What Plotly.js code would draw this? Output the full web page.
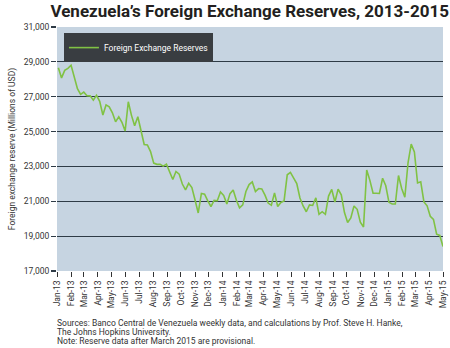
<!DOCTYPE html>
<html><head><meta charset="utf-8">
<script src="https://cdn.plot.ly/plotly-3.0.1.min.js"></script>
<style>html,body{margin:0;padding:0;background:#fff;}#chart{width:450px;height:348px;}</style>
</head><body><div id="chart"></div>
<script>
const dates = [
"2013-01-04","2013-01-11","2013-01-18","2013-01-25","2013-02-01","2013-02-08","2013-02-15","2013-02-22",
"2013-03-01","2013-03-08","2013-03-15","2013-03-22","2013-03-29","2013-04-05","2013-04-12","2013-04-19","2013-04-26",
"2013-05-03","2013-05-10","2013-05-17","2013-05-24","2013-05-31","2013-06-07","2013-06-14","2013-06-21","2013-06-28",
"2013-07-05","2013-07-12","2013-07-19","2013-07-26","2013-08-02","2013-08-09","2013-08-16","2013-08-23","2013-08-30",
"2013-09-06","2013-09-13","2013-09-20","2013-09-27","2013-10-04","2013-10-11","2013-10-18","2013-10-25",
"2013-11-01","2013-11-08","2013-11-15","2013-11-22","2013-11-29","2013-12-06","2013-12-13","2013-12-20","2013-12-27",
"2014-01-03","2014-01-10","2014-01-17","2014-01-24","2014-01-31","2014-02-07","2014-02-14","2014-02-21","2014-02-28",
"2014-03-07","2014-03-14","2014-03-21","2014-03-28","2014-04-04","2014-04-11","2014-04-18","2014-04-25",
"2014-05-02","2014-05-09","2014-05-16","2014-05-23","2014-05-30","2014-06-06","2014-06-13","2014-06-20","2014-06-27",
"2014-07-04","2014-07-11","2014-07-18","2014-07-25","2014-08-01","2014-08-08","2014-08-15","2014-08-22","2014-08-29",
"2014-09-05","2014-09-12","2014-09-19","2014-09-26","2014-10-03","2014-10-10","2014-10-17","2014-10-24","2014-10-31",
"2014-11-07","2014-11-14","2014-11-21","2014-11-28","2014-12-05","2014-12-12","2014-12-19","2014-12-26",
"2015-01-02","2015-01-09","2015-01-16","2015-01-23","2015-01-30","2015-02-06","2015-02-13","2015-02-20","2015-02-27",
"2015-03-06","2015-03-13","2015-03-20","2015-03-27","2015-04-03","2015-04-10","2015-04-17","2015-04-24","2015-05-01"
];
const reserves = [
28660,28080,28510,28630,28810,28110,27460,27130,
27260,27060,27050,26800,27080,26740,25950,26530,26420,
26080,25560,25850,25530,25030,26710,25930,25330,25850,
24950,24260,24230,23850,23190,23120,23120,23020,23130,
22680,22250,22710,22560,21990,21650,22030,21790,
21070,20330,21450,21410,21020,20700,21050,21030,21530,
21340,20850,21440,21650,21060,20620,20790,21560,21960,
22110,21560,21730,21710,21350,20900,20770,21480,
20700,20930,21020,22520,22660,22310,22020,21190,20730,
20400,20790,20760,21200,20250,20400,20250,21300,21680,
20960,21700,21370,20350,19780,20040,20730,20540,19800,
19520,22790,22200,21460,21460,21450,22320,21890,
20940,20840,20840,22480,21730,21240,23210,24280,23830,
22050,22120,20960,20740,20140,19960,19110,19040,18400
];
const seriesName = "Foreign Exchange Reserves";
const titleText = "Venezuela\u2019s Foreign Exchange Reserves, 2013-2015";
const yTitle = "Foreign exchange reserve (Millions of USD)";
const yTicks = [17000,19000,21000,23000,25000,27000,29000,31000];
const footLines = [
"Sources: Banco Central de Venezuela weekly data, and calculations by Prof. Steve H. Hanke,",
"The Johns Hopkins University.",
"Note: Reserve data after March 2015 are provisional."
];

const narrow = '"Liberation Sans Narrow", "Roboto", sans-serif';
const trace = {
  x: dates, y: reserves, type: 'scatter', mode: 'lines', name: seriesName,
  line: {color: '#80c244', width: 1.6}, showlegend: true
};
const layout = {
  width: 450, height: 348,
  margin: {l: 57, r: 7, t: 27, b: 77},
  paper_bgcolor: '#ffffff',
  plot_bgcolor: '#c6d4e1',
  title: {text: '<b>' + titleText + '</b>', font: {family: 'Roboto, sans-serif', size: 17, color: '#231f20'},
          x: 0.555, xanchor: 'center', y: 0.968, yanchor: 'middle'},
  xaxis: {
    type: 'date', range: ['2013-01-01', '2015-05-01'],
    tickformat: '%b-%y', dtick: 'M1', tick0: '2013-01-01', tickangle: -90,
    ticks: 'outside', ticklen: 5, tickcolor: '#333', tickwidth: 1,
    showgrid: false, zeroline: false, showline: false,
    tickfont: {family: narrow, size: 8.5, color: '#333'}
  },
  yaxis: {
    range: [17000, 31000], tickvals: yTicks, tickformat: ',',
    ticks: 'outside', ticklen: 5, tickcolor: '#2e3b46', tickwidth: 1.2,
    showgrid: true, gridcolor: '#2e3b46', gridwidth: 1.2, zeroline: false, showline: false,
    tickfont: {family: narrow, size: 8.5, color: '#333'},
    title: {text: yTitle, font: {family: narrow, size: 8.5, color: '#333'}, standoff: 6}
  },
  legend: {x: 0.018, y: 0.975, xanchor: 'left', yanchor: 'top', bgcolor: '#393d41',
           itemwidth: 30, tracegroupgap: 0,
           font: {family: narrow, size: 8.5, color: '#ffffff'}, borderwidth: 0},
  annotations: footLines.map((t, i) => ({
    text: t, xref: 'paper', yref: 'paper', x: -0.005, xanchor: 'left',
    y: 1 - (323 + 9 * i - 27) / 244, yanchor: 'middle', showarrow: false,
    font: {family: narrow, size: 8.5, color: '#333'}
  }))
};
Plotly.newPlot('chart', [trace], layout, {displayModeBar: false, staticPlot: true});
</script></body></html>
